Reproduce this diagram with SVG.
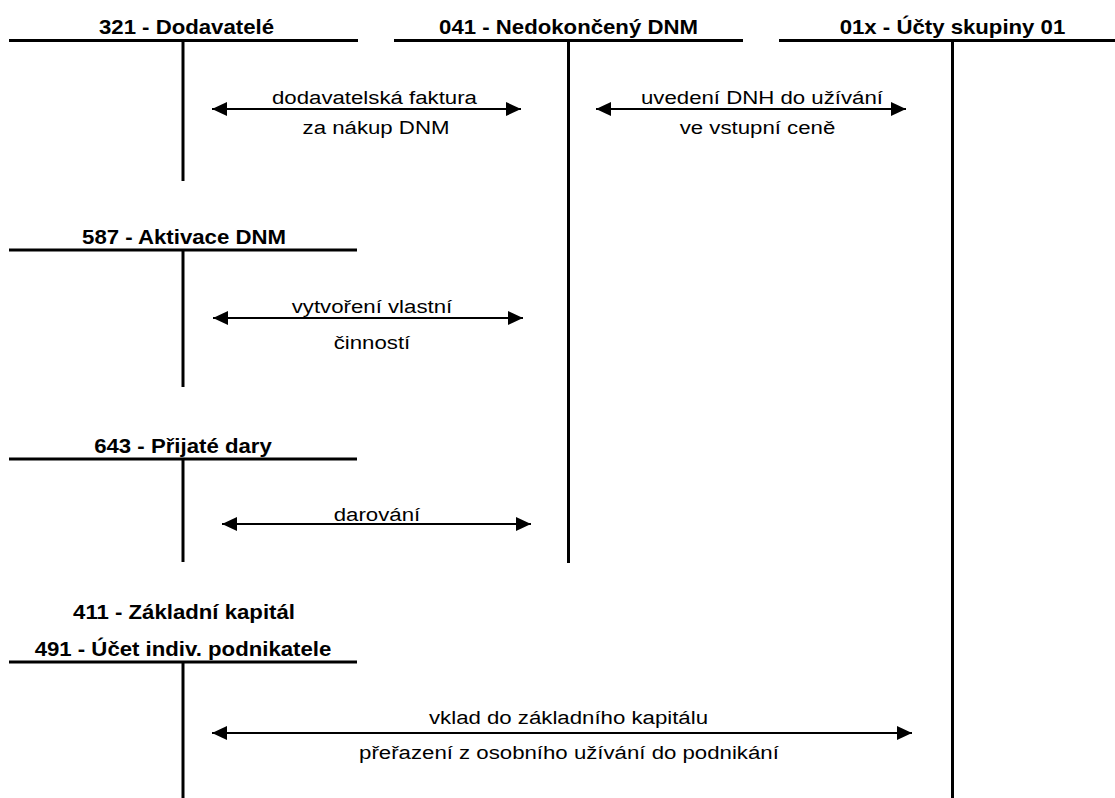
<svg xmlns="http://www.w3.org/2000/svg" width="1115" height="798" viewBox="0 0 1115 798">
  <style>
    .bg { fill: #ffffff; }
    .tl { stroke: #000; stroke-width: 3; fill: none; }
    .ar { stroke: #000; stroke-width: 2; fill: none; marker-start: url(#head); marker-end: url(#head); }
    .h { font-family: "Liberation Sans", Arial, sans-serif; font-weight: bold; font-size: 20px; fill: #000; text-anchor: middle; transform-box: fill-box; transform-origin: center; transform: scaleX(1.11); }
    .t { font-family: "Liberation Sans", Arial, sans-serif; font-size: 19px; fill: #000; text-anchor: middle; transform-box: fill-box; transform-origin: center; transform: scaleX(1.17); }
  </style>
  <defs>
    <marker id="head" markerUnits="userSpaceOnUse" markerWidth="16" markerHeight="14" refX="15" refY="7" orient="auto-start-reverse" viewBox="0 0 16 14">
      <path d="M0,0 L15,7 L0,14 z" fill="#000"/>
    </marker>
  </defs>
  <rect class="bg" x="0" y="0" width="1115" height="798"/>

  <!-- T-accounts -->
  <g id="acc-321">
    <text class="h" x="186.5" y="34">321 - Dodavatelé</text>
    <line class="tl" x1="9" y1="40.5" x2="358" y2="40.5"/>
    <line class="tl" x1="183" y1="40.5" x2="183" y2="181"/>
  </g>
  <g id="acc-041">
    <text class="h" x="568.5" y="34">041 - Nedokončený DNM</text>
    <line class="tl" x1="394" y1="40.5" x2="743" y2="40.5"/>
    <line class="tl" x1="568.5" y1="40.5" x2="568.5" y2="563"/>
  </g>
  <g id="acc-01x">
    <text class="h" x="952.5" y="34">01x - Účty skupiny 01</text>
    <line class="tl" x1="779" y1="40.5" x2="1115" y2="40.5"/>
    <line class="tl" x1="952.5" y1="40.5" x2="952.5" y2="798"/>
  </g>
  <g id="acc-587">
    <text class="h" x="184" y="244">587 - Aktivace DNM</text>
    <line class="tl" x1="9" y1="250" x2="357" y2="250"/>
    <line class="tl" x1="183" y1="250" x2="183" y2="387"/>
  </g>
  <g id="acc-643">
    <text class="h" x="183" y="453">643 - Přijaté dary</text>
    <line class="tl" x1="9" y1="459" x2="357" y2="459"/>
    <line class="tl" x1="183" y1="459" x2="183" y2="562"/>
  </g>
  <g id="acc-411-491">
    <text class="h" x="184" y="619">411 - Základní kapitál</text>
    <text class="h" x="183" y="656">491 - Účet indiv. podnikatele</text>
    <line class="tl" x1="9" y1="662" x2="357" y2="662"/>
    <line class="tl" x1="183" y1="662" x2="183" y2="798"/>
  </g>

  <!-- Connectors -->
  <g id="connectors">
    <line class="ar" x1="212" y1="109" x2="521" y2="109"/>
    <line class="ar" x1="596" y1="109" x2="906" y2="109"/>
    <line class="ar" x1="213" y1="318" x2="523" y2="318"/>
    <line class="ar" x1="222" y1="524" x2="531" y2="524"/>
    <line class="ar" x1="212" y1="733" x2="912" y2="733"/>
  </g>

  <!-- Connector labels -->
  <g id="labels">
    <text class="t" x="374.5" y="104">dodavatelská faktura</text>
    <text class="t" x="376" y="134">za nákup DNM</text>
    <text class="t" x="762" y="104">uvedení DNH do užívání</text>
    <text class="t" x="757.5" y="134">ve vstupní ceně</text>
    <text class="t" x="372" y="313">vytvoření vlastní</text>
    <text class="t" x="372" y="349">činností</text>
    <text class="t" x="377" y="521">darování</text>
    <text class="t" x="568.5" y="724">vklad do základního kapitálu</text>
    <text class="t" x="569" y="759">přeřazení z osobního užívání do podnikání</text>
  </g>
</svg>
